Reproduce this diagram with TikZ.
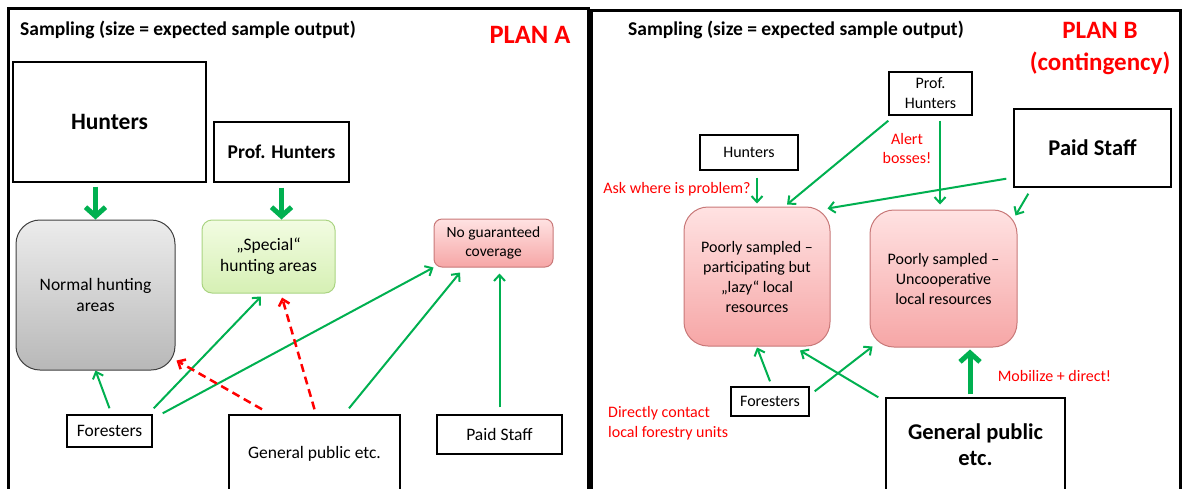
\documentclass[tikz,border=0pt]{standalone}
\usepackage{fontspec}
\setmainfont{Carlito}
\usetikzlibrary{arrows.meta, calc, positioning}
\definecolor{arrowGreen}{RGB}{0,176,80}
\definecolor{planRed}{RGB}{255,0,0}
\definecolor{greyTop}{RGB}{236,236,236}
\definecolor{greyBot}{RGB}{184,184,184}
\definecolor{greenTop}{RGB}{242,252,226}
\definecolor{greenBot}{RGB}{214,240,180}
\definecolor{greenLine}{RGB}{170,212,130}
\definecolor{pinkTop}{RGB}{255,226,226}
\definecolor{pinkBot}{RGB}{246,166,166}
\definecolor{pinkLine}{RGB}{200,120,120}

\begin{document}
\begin{tikzpicture}[x=1pt, y=-1pt,
    plainbox/.style={draw=black, line width=1.4pt, fill=white, align=center, inner sep=0pt},
    areabox/.style={draw, line width=1pt, align=center, inner sep=0pt, rounded corners=#1},
    txtA/.style={font=\fontsize{17.5}{21}\selectfont},
    txtB/.style={font=\fontsize{16}{20}\selectfont},
    headA/.style={font=\bfseries\fontsize{23.5}{28}\selectfont},
    headB/.style={font=\bfseries\fontsize{22.5}{26}\selectfont},
    title/.style={anchor=west, inner sep=0pt, font=\bfseries\fontsize{19.5}{23}\selectfont},
    note/.style={text=planRed, font=\fontsize{16}{19.5}\selectfont, inner sep=0pt},
    grn/.style={draw=arrowGreen, line width=2pt, -{Straight Barb[length=6pt,width=11pt]}},
    grnthick/.style={draw=arrowGreen, line width=5pt, -{Straight Barb[length=9pt,width=20pt]}},
    reddash/.style={draw=planRed, line width=2.5pt, dash pattern=on 8pt off 5pt, -{Straight Barb[length=6pt,width=11pt]}}]
    \useasboundingbox (0,0) rectangle (1182,488);

    % frames
    \draw[line width=3pt] (8,8) rectangle (588,500);
    \draw[line width=3pt] (591,10) rectangle (1180,500);

    % ---- plan A ----
    \node[title] (titleA) at (20,30) {Sampling (size = expected sample output)};
    \node[text=planRed, font=\bfseries\fontsize{26.5}{30}\selectfont, inner sep=0pt] (planA) at (530,35) {PLAN A};

    \node[plainbox, headA, minimum width=193pt, minimum height=120pt] (huntA) at (109.5,122) {Hunters};
    \node[plainbox, font=\bfseries\fontsize{19.5}{23}\selectfont, minimum width=135pt, minimum height=60pt] (profA) at (281.5,152) {Prof. Hunters};

    \node[areabox=24pt, txtA, draw=black!75, top color=greyTop, bottom color=greyBot, minimum width=159pt, minimum height=150pt] (normA) at (95.5,295) {Normal hunting\\areas};
    \node[areabox=10pt, txtA, draw=greenLine, top color=greenTop, bottom color=greenBot, minimum width=133pt, minimum height=73pt] (specA) at (268.5,256.5) {„Special“\\hunting areas};
    \node[areabox=8pt, font=\fontsize{15.5}{18.5}\selectfont, draw=pinkLine, top color=pinkTop, bottom color=pinkBot, minimum width=119pt, minimum height=48pt] (nocovA) at (493.5,243) {No guaranteed\\coverage};

    \node[plainbox, txtA, minimum width=85pt, minimum height=32pt] (forA) at (109.5,431) {Foresters};
    \node[plainbox, txtA, minimum width=171pt, minimum height=77pt] (genA) at (314.5,453.5) {General public etc.};
    \node[plainbox, txtA, minimum width=125pt, minimum height=39pt] (paidA) at (499.5,434.5) {Paid Staff};

    \draw[grnthick] ($(huntA.south -| normA.north)+(0,4)$) -- (normA.north);
    \draw[grnthick] ($(profA.south)+(0,5)$) -- (profA.south |- specA.north);
    \draw[grn] ($(forA.north)+(0,-6)$) -- (normA.south);
    \draw[grn] ($(forA.north east)+(1,-6)$) -- ($(specA.south)+(-7.5,3)$);
    \draw[grn] ($(forA.north east)+(10,-1)$) -- (nocovA.south west);
    \draw[reddash] ($(genA.north)+(-52.5,-5)$) -- ($(normA.south east)+(1,-10)$);
    \draw[reddash] ($(genA.north)+(0,-5)$) -- ($(specA.south)+(13.5,4)$);
    \draw[grn] ($(genA.north)+(34.5,-6)$) -- ($(nocovA.south)+(-33.5,5)$);
    \draw[grn] ($(paidA.north)+(0,-7)$) -- ($(paidA.north |- nocovA.south)+(0,6)$);

    % ---- plan B ----
    \node[title] (titleB) at (628,30) {Sampling (size = expected sample output)};
    \node[text=planRed, align=center, font=\bfseries\fontsize{25}{32}\selectfont, inner sep=0pt] (planB) at (1100,49) {PLAN B\\(contingency)};

    \node[plainbox, txtB, minimum width=83pt, minimum height=43pt] (profB) at (930.5,93.5) {Prof.\\Hunters};
    \node[plainbox, txtB, minimum width=98pt, minimum height=35pt] (huntB) at (749,152.5) {Hunters};
    \node[plainbox, headB, minimum width=157pt, minimum height=78pt] (paidB) at (1092.5,148) {Paid Staff};

    \node[note] (askB) at (677,189) {Ask where is problem?};
    \node[note, align=center] (alertB) at (907,148.5) {Alert\\bosses!};

    \node[areabox=24pt, txtB, draw=pinkLine, top color=pinkTop, bottom color=pinkBot, minimum width=146pt, minimum height=139pt] (psAB) at (757,276.5) {Poorly sampled --\\participating but\\„lazy“ local\\resources};
    \node[areabox=24pt, txtB, draw=pinkLine, top color=pinkTop, bottom color=pinkBot, minimum width=147pt, minimum height=137pt] (psBB) at (943.5,278.5) {Poorly sampled --\\Uncooperative\\local resources};

    \node[plainbox, txtB, minimum width=78pt, minimum height=29pt] (forB) at (770,401.5) {Foresters};
    \node[note, align=left, anchor=west] (directB) at (608,423) {Directly contact\\local forestry units};
    \node[plainbox, headB, minimum width=179pt, minimum height=94pt] (genB) at (975.5,445) {General public\\etc.};
    \node[note] (mobB) at (1054.5,376) {Mobilize + direct!};

    \draw[grn] ($(psAB.north |- huntB.south)+(0,7)$) -- ($(psAB.north)+(0,-3)$);
    \draw[grn] ($(profB.south west)+(0,5)$) -- ($(psAB.north)+(30,-2)$);
    \draw[grn] ($(profB.south)+(9.5,5)$) -- ($(psBB.north)+(-3.5,-5)$);
    \draw[grn] ($(paidB.south west)+(-7,-9)$) -- ($(psAB.north east)+(-3,2)$);
    \draw[grn] ($(paidB.south west)+(15,6)$) -- ($(psBB.north east)+(-2,6)$);
    \draw[grn] ($(forB.north)+(0,-5)$) -- ($(psAB.south)+(0,1)$);
    \draw[grn] ($(forB.north east)+(5,5)$) -- ($(psBB.south west)+(3,-1)$);
    \draw[grn] ($(genB.north west)+(-7,0)$) -- ($(psAB.south)+(43,4)$);
    \draw[grnthick] ($(genB.north)+(-5.5,-3)$) -- ($(genB.north |- psBB.south)+(-5.5,2)$);
\end{tikzpicture}
\end{document}
